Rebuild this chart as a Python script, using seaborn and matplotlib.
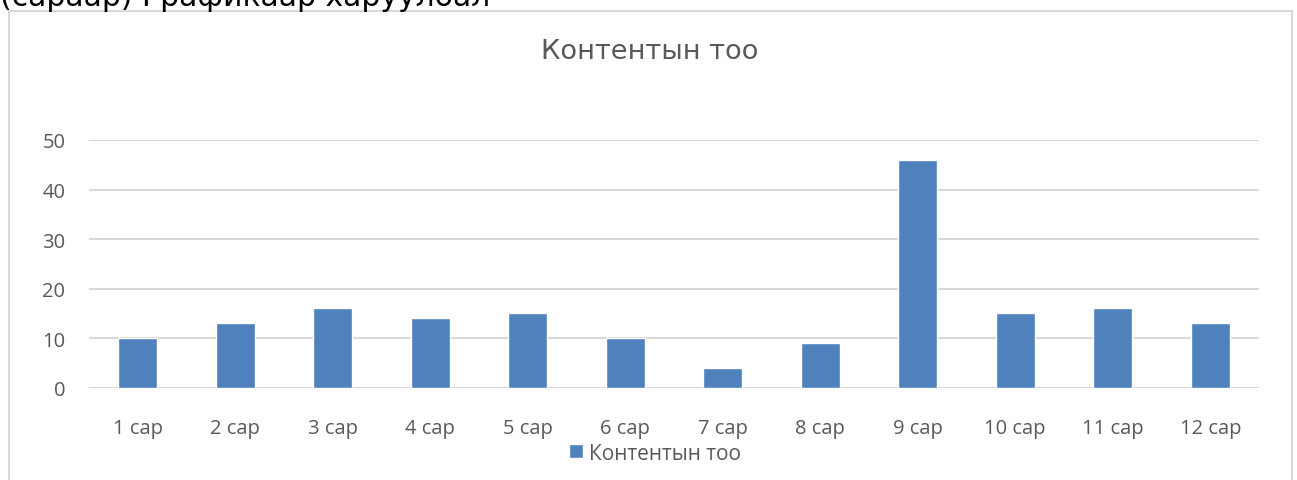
import matplotlib
matplotlib.use("Agg")
import matplotlib.pyplot as plt
import seaborn as sns
import pandas as pd
from matplotlib.patches import Rectangle

# values
months = ["1 сар", "2 сар", "3 сар", "4 сар", "5 сар", "6 сар",
          "7 сар", "8 сар", "9 сар", "10 сар", "11 сар", "12 сар"]
counts = [10, 13, 16, 14, 15, 10, 4, 9, 46, 15, 16, 13]
series_name = "Контентын тоо"
y_ticks = [0, 10, 20, 30, 40, 50]

BLUE = "#4F81BD"
GRAY_TEXT = "#595959"
GRID = "#D9D9D9"

sns.set_theme(style="white")
plt.rcParams["font.family"] = ["Open Sans", "DejaVu Sans"]

df = pd.DataFrame({"month": months, "count": counts})

fig = plt.figure(figsize=(12.97, 4.81), dpi=100)
W, H = 1297, 481
ax = fig.add_axes([89 / W, 1 - 388.7 / H, (1259 - 89) / W, (388.7 - 141) / H])

sns.barplot(data=df, x="month", y="count", color=BLUE, width=0.4,
            saturation=1, label=series_name, ax=ax)

ax.set_ylim(0, 50)
ax.set_xlim(-0.5, len(months) - 0.5)
ax.set_yticks(y_ticks)
ax.yaxis.grid(True, color=GRID, linewidth=1.5)
ax.set_axisbelow(True)
for s in ax.spines.values():
    s.set_visible(False)
ax.set_xlabel("")
ax.set_ylabel("")
ax.tick_params(axis="both", length=0, labelsize=14.5, colors=GRAY_TEXT)
ax.tick_params(axis="x", pad=22)
ax.tick_params(axis="y", pad=17)

# bottom axis line (zero gridline)
ax.axhline(0, color=GRID, linewidth=1.5, zorder=0.5)

fig.text(650 / W, 1 - 52 / H, series_name, ha="center", va="center",
         fontsize=19.6, color=GRAY_TEXT, family=["DejaVu Sans"])

leg = ax.legend(loc="center", bbox_to_anchor=(655 / W, 1 - 454 / H),
                bbox_transform=fig.transFigure, frameon=False, fontsize=15,
                handlelength=0.65, handleheight=0.65, handletextpad=0.3)
for t in leg.get_texts():
    t.set_color(GRAY_TEXT)

# chart border
fig.patches.append(Rectangle((9 / W, -0.1), (1292 - 9) / W, 1.1 - 12 / H,
                             transform=fig.transFigure, fill=False,
                             edgecolor=GRID, linewidth=1.5))

# heading text above the chart, cut off by the top edge as in the source
fig.text(0, 1 - 6 / H, "(сараар) Графикаар харуулбал", ha="left",
         va="baseline", fontsize=21.5, color="black",
         family=["DejaVu Sans"])

fig.savefig("out.png", dpi=100)
